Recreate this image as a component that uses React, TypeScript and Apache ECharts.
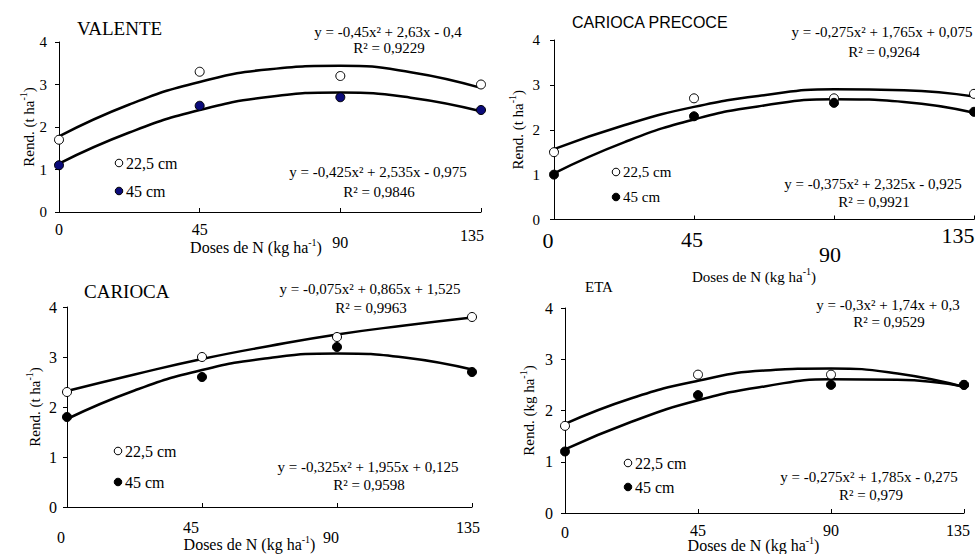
import React, { useEffect, useRef } from "react";
import * as echarts from "echarts";

// ---- data ----
const doses = [0, 45, 90, 135];
const curveDoses = [0, 22.5, 45, 67.5, 90, 112.5, 135];
const doseTicks = ["0", "45", "90", "135"];
const panelTitles = ["VALENTE", "CARIOCA PRECOCE", "CARIOCA", "ETA"];
const legendNames = ["22,5 cm", "45 cm"];

const valente225 = [1.7, 3.3, 3.2, 3.0];
const valente45 = [1.1, 2.5, 2.7, 2.4];
const valenteTrend225 = [1.78, 2.53, 3.06, 3.36, 3.44, 3.29, 2.92];
const valenteTrend45 = [1.14, 1.87, 2.4, 2.71, 2.81, 2.69, 2.37];

const precoce225 = [1.5, 2.7, 2.7, 2.8];
const precoce45 = [1.0, 2.3, 2.6, 2.4];
const precoceTrend225 = [1.57, 2.1, 2.51, 2.77, 2.9, 2.88, 2.74];
const precoceTrend45 = [1.03, 1.72, 2.23, 2.54, 2.68, 2.62, 2.38];

const carioca225 = [2.3, 3.0, 3.4, 3.8];
const carioca45 = [1.8, 2.6, 3.2, 2.7];
const cariocaTrend225 = [2.32, 2.65, 2.96, 3.22, 3.45, 3.63, 3.79];
const cariocaTrend45 = [1.76, 2.33, 2.74, 2.98, 3.07, 2.99, 2.75];

const eta225 = [1.7, 2.7, 2.7, 2.5];
const eta45 = [1.2, 2.3, 2.5, 2.5];
const etaTrend225 = [1.74, 2.24, 2.58, 2.78, 2.82, 2.72, 2.46];
const etaTrend45 = [1.24, 1.78, 2.2, 2.47, 2.61, 2.6, 2.47];

const equations225 = [
  ["y = -0,45x² + 2,63x - 0,4", "R² = 0,9229"],
  ["y = -0,275x² + 1,765x + 0,075", "R² = 0,9264"],
  ["y = -0,075x² + 0,865x + 1,525", "R² = 0,9963"],
  ["y = -0,3x² + 1,74x + 0,3", "R² = 0,9529"],
];
const equations45 = [
  ["y = -0,425x² + 2,535x - 0,975", "R² = 0,9846"],
  ["y = -0,375x² + 2,325x - 0,925", "R² = 0,9921"],
  ["y = -0,325x² + 1,955x + 0,125", "R² = 0,9598"],
  ["y = -0,275x² + 1,785x - 0,275", "R² = 0,979"],
];
const yNames = ["t ha", "t ha", "t ha", "kg ha"];

const points225 = [valente225, precoce225, carioca225, eta225];
const points45 = [valente45, precoce45, carioca45, eta45];
const trends225 = [valenteTrend225, precoceTrend225, cariocaTrend225, etaTrend225];
const trends45 = [valenteTrend45, precoceTrend45, cariocaTrend45, etaTrend45];

// ---- layout ----
const SERIF = "Times New Roman";
const SANS = "Liberation Sans";

const layouts = [
  {
    grid: { left: 59, top: 42, width: 422, height: 170 },
    yLabelSize: 15, yLabelMargin: 12, yNameGap: 19, yNameSize: 15,
    xLabelSize: 16, xLabelMargin: 9,
    xOffsets: [[0, 0], [0, 0], [0, 13], [-9, 6]],
    xNameSize: 16, xNameGap: 25, xNameShift: -14,
    title: { x: 77, y: 28, size: 19, font: SERIF },
    eqTop: [[388, 32], [389, 48]], eqBot: [[378, 172], [379, 192]],
    legend: [[119, 163], [119, 191]],
    fill45: "#0b0b7a",
  },
  {
    grid: { left: 554, top: 40, width: 420, height: 179.5 },
    yLabelSize: 15, yLabelMargin: 14, yNameGap: 25, yNameSize: 15,
    xLabelSize: 22, xLabelMargin: 5,
    xOffsets: [[-6, 5], [-2, 4], [-4, 19], [-16, 0]],
    xNameSize: 15, xNameGap: 47, xNameShift: -10,
    title: { x: 572, y: 22.5, size: 16, font: SANS },
    eqTop: [[882, 32], [884, 52]], eqBot: [[873, 184], [874, 202]],
    legend: [[616, 172], [616, 197]],
    fill45: "#000",
  },
  {
    grid: { left: 67, top: 307, width: 405, height: 200 },
    yLabelSize: 16, yLabelMargin: 10, yNameGap: 21, yNameSize: 15,
    xLabelSize: 16, xLabelMargin: 12,
    xOffsets: [[-6, 10], [-11, 0], [-6, 10], [-4, 0]],
    xNameSize: 16, xNameGap: 27, xNameShift: -20,
    title: { x: 84, y: 291, size: 19, font: SERIF },
    eqTop: [[370, 289], [371, 308]], eqBot: [[368, 467], [369, 485]],
    legend: [[118, 451], [118, 482]],
    fill45: "#000",
  },
  {
    grid: { left: 565, top: 308, width: 399, height: 205 },
    yLabelSize: 16, yLabelMargin: 12, yNameGap: 25, yNameSize: 15,
    xLabelSize: 16, xLabelMargin: 9,
    xOffsets: [[0, 2], [0, 0], [0, 0], [-6, 0]],
    xNameSize: 16, xNameGap: 22, xNameShift: -11,
    title: { x: 585, y: 287, size: 15, font: SERIF },
    eqTop: [[888, 305], [889, 322]], eqBot: [[869, 477], [871, 495]],
    legend: [[628, 463], [628, 487]],
    fill45: "#000",
  },
];

function txt(text: string, x: number, y: number, size: number, family: string, align: string) {
  return {
    type: "text",
    style: {
      text,
      x,
      y,
      fontSize: size,
      fontFamily: family,
      fill: "#000",
      align,
      verticalAlign: "middle",
    },
  };
}

function buildOption() {
  const grids: any[] = [];
  const xAxes: any[] = [];
  const yAxes: any[] = [];
  const series: any[] = [];
  const graphics: any[] = [];

  layouts.forEach((L, i) => {
    grids.push({ ...L.grid, containLabel: false, outerBoundsMode: "none" });

    const rich: any = {};
    doseTicks.forEach((t, k) => {
      const [dx, dy] = L.xOffsets[k];
      rich["v" + t] = {
        fontSize: L.xLabelSize,
        fontFamily: SERIF,
        color: "#000",
        padding: [Math.max(dy, 0), dx < 0 ? -2 * dx : 0, 0, dx > 0 ? 2 * dx : 0],
      };
    });

    xAxes.push({
      type: "value",
      gridIndex: i,
      min: 0,
      max: 135,
      interval: 45,
      axisLine: { show: true, onZero: false, lineStyle: { color: "#000", width: 1 } },
      axisTick: { show: true, inside: true, length: 4, lineStyle: { color: "#000" } },
      splitLine: { show: false },
      axisLabel: {
        margin: L.xLabelMargin,
        verticalAlign: "top",
        fontFamily: SERIF,
        fontSize: L.xLabelSize,
        color: "#000",
        formatter: (v: number) => "{v" + v + "|" + v + "}",
        rich,
      },
      name: "{b|Doses de N (kg ha}{s|-1}{e|)}",
      nameLocation: "middle",
      nameGap: L.xNameGap,
      nameMoveOverlap: false,
      nameTextStyle: {
        fontFamily: SERIF,
        fontSize: L.xNameSize,
        color: "#000",
        rich: {
          b: { fontFamily: SERIF, fontSize: L.xNameSize, color: "#000" },
          s: { fontFamily: SERIF, fontSize: 10, color: "#000", padding: [0, 0, 10, 0] },
          e: {
            fontFamily: SERIF,
            fontSize: L.xNameSize,
            color: "#000",
            padding: [0, L.xNameShift < 0 ? -2 * L.xNameShift : 0, 0, 0],
          },
        },
      },
    });

    yAxes.push({
      type: "value",
      gridIndex: i,
      min: 0,
      max: 4,
      interval: 1,
      axisLine: { show: true, lineStyle: { color: "#000", width: 1 } },
      axisTick: { show: true, inside: false, length: 4, lineStyle: { color: "#000" } },
      splitLine: { show: false },
      axisLabel: {
        margin: L.yLabelMargin,
        fontFamily: SERIF,
        fontSize: L.yLabelSize,
        color: "#000",
      },
      name: "{b|Rend. (" + yNames[i] + "}{s|-1}{b|)}",
      nameLocation: "middle",
      nameRotate: 90,
      nameGap: L.yNameGap,
      nameMoveOverlap: false,
      nameTextStyle: {
        fontFamily: SERIF,
        fontSize: L.yNameSize,
        color: "#000",
        rich: {
          b: { fontFamily: SERIF, fontSize: L.yNameSize, color: "#000" },
          s: { fontFamily: SERIF, fontSize: 10, color: "#000", padding: [0, 0, 12, 0] },
        },
      },
    });

    const trendStyle = { color: "#000", width: 2.5 };
    series.push({
      type: "line",
      name: legendNames[0] + " trend",
      xAxisIndex: i,
      yAxisIndex: i,
      data: curveDoses.map((d, k) => [d, trends225[i][k]]),
      smooth: 0.5,
      symbol: "none",
      lineStyle: trendStyle,
      clip: false,
      z: 2,
    });
    series.push({
      type: "line",
      name: legendNames[1] + " trend",
      xAxisIndex: i,
      yAxisIndex: i,
      data: curveDoses.map((d, k) => [d, trends45[i][k]]),
      smooth: 0.5,
      symbol: "none",
      lineStyle: trendStyle,
      clip: false,
      z: 2,
    });
    series.push({
      type: "scatter",
      name: legendNames[0],
      xAxisIndex: i,
      yAxisIndex: i,
      data: doses.map((d, k) => [d, points225[i][k]]),
      symbol: "circle",
      symbolSize: 9,
      itemStyle: { color: "#fff", borderColor: "#000", borderWidth: 1, opacity: 1 },
      clip: false,
      z: 3,
    });
    series.push({
      type: "scatter",
      name: legendNames[1],
      xAxisIndex: i,
      yAxisIndex: i,
      data: doses.map((d, k) => [d, points45[i][k]]),
      symbol: "circle",
      symbolSize: 9,
      itemStyle: { color: L.fill45, borderColor: "#000", borderWidth: 1, opacity: 1 },
      clip: false,
      z: 3,
    });

    graphics.push(txt(panelTitles[i], L.title.x, L.title.y, L.title.size, L.title.font, "left"));
    const eqs = [
      [equations225[i], L.eqTop],
      [equations45[i], L.eqBot],
    ] as any[];
    eqs.forEach(([lines, pos]) => {
      lines.forEach((line: string, k: number) => {
        graphics.push(txt(line, pos[k][0], pos[k][1], 15, SERIF, "center"));
      });
    });
    L.legend.forEach((p, k) => {
      graphics.push({
        type: "circle",
        shape: { cx: p[0], cy: p[1], r: 3.8 },
        style: { fill: k === 0 ? "#fff" : L.fill45, stroke: "#000", lineWidth: 1 },
      });
      graphics.push(txt(legendNames[k], p[0] + 7, p[1], i === 1 ? 15 : 16, SERIF, "left"));
    });
  });

  return {
    animation: false,
    backgroundColor: "#fff",
    textStyle: { fontFamily: SERIF },
    grid: grids,
    xAxis: xAxes,
    yAxis: yAxes,
    series,
    graphic: { elements: graphics },
  };
}

export default function App() {
  const ref = useRef<HTMLDivElement>(null);
  useEffect(() => {
    if (!ref.current) return;
    const chart = echarts.init(ref.current, undefined, { renderer: "svg" });
    chart.setOption(buildOption() as any);
    return () => chart.dispose();
  }, []);
  return (
    <div
      ref={ref}
      style={{ position: "fixed", left: 0, top: 0, width: 975, height: 554, background: "#fff" }}
    />
  );
}
